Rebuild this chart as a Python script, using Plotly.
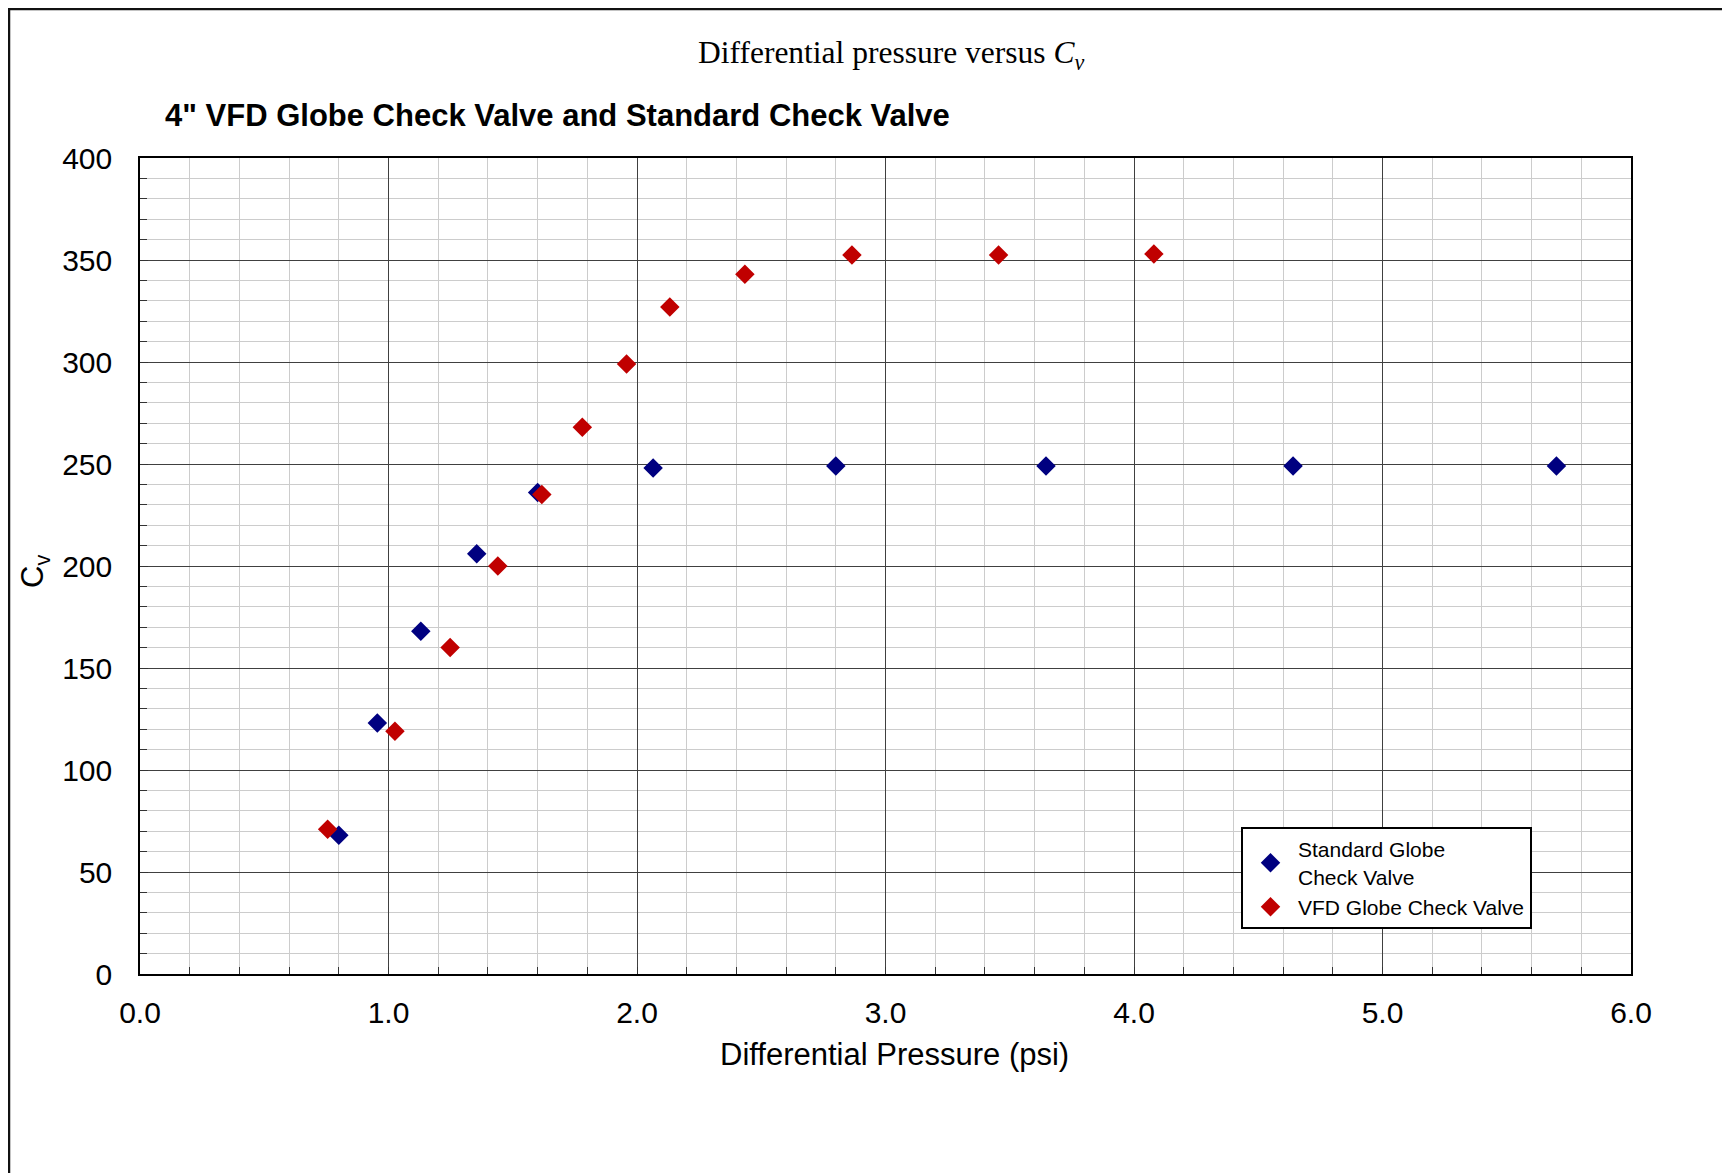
import plotly.graph_objects as go

# Data
std_dp = [0.80, 0.955, 1.13, 1.355, 1.60, 2.065, 2.80, 3.646, 4.64, 5.70]
std_cv = [68, 123, 168, 206, 236, 248, 249, 249, 249, 249]
std_name = "Standard Globe<br>Check Valve"

vfd_dp = [0.755, 1.026, 1.248, 1.44, 1.617, 1.78, 1.958, 2.132, 2.434, 2.865, 3.455, 4.08]
vfd_cv = [71, 119, 160, 200, 235, 268, 299, 327, 343, 352.5, 352.5, 353]
vfd_name = "VFD Globe Check Valve"

x_ticks = [0.0, 1.0, 2.0, 3.0, 4.0, 5.0, 6.0]
y_ticks = [0, 50, 100, 150, 200, 250, 300, 350, 400]

W, H = 1730, 1173
OFF = 8  # page body offset
L, R, T, B = 140 - OFF, 1631 - OFF, 158 - OFF, 974 - OFF  # plot area in pixels
pw, ph = R - L, B - T

def px(xp):
    return (xp - OFF - L) / pw

def py(yp):
    return (B - (yp - OFF)) / ph

fig = go.Figure()
fig.add_trace(go.Scatter(
    x=std_dp, y=std_cv, mode="markers", name=std_name,
    marker=dict(symbol="diamond", size=15, color="#000080"),
))
fig.add_trace(go.Scatter(
    x=vfd_dp, y=vfd_cv, mode="markers", name=vfd_name,
    marker=dict(symbol="diamond", size=15, color="#C00000"),
))

sans = "Liberation Sans, Arial, sans-serif"
tickfont = dict(family=sans, size=30, color="black")

fig.update_xaxes(
    range=[0, 6], tickvals=x_ticks, ticktext=[f"{v:.1f}" for v in x_ticks],
    showgrid=True, gridcolor="#404040", gridwidth=1,
    ticks="inside", ticklen=7, tickcolor="#333", tickwidth=1,
    minor=dict(dtick=0.2, showgrid=True, gridcolor="#cccccc", gridwidth=1,
               ticks="inside", ticklen=7, tickcolor="#333"),
    showline=True, linecolor="black", linewidth=1.5, mirror=True,
    zeroline=False, tickfont=tickfont, ticklabelstandoff=11,
)
fig.update_yaxes(
    range=[0, 400], tickvals=y_ticks,
    showgrid=True, gridcolor="#404040", gridwidth=1,
    ticks="inside", ticklen=8, tickcolor="#333", tickwidth=1,
    minor=dict(dtick=10, showgrid=True, gridcolor="#cccccc", gridwidth=1,
               ticks="inside", ticklen=7, tickcolor="#333"),
    showline=True, linecolor="black", linewidth=1.5, mirror=True,
    zeroline=False, tickfont=tickfont, ticklabelstandoff=20,
)

annotations = [
    dict(text="Differential pressure versus <i>C<sub>v</sub></i>",
         x=px(891), y=py(55), xref="paper", yref="paper",
         xanchor="center", yanchor="middle", showarrow=False,
         font=dict(family="Liberation Serif, Times New Roman, serif", size=31.5, color="black")),
    dict(text="<b>4\" VFD Globe Check Valve and Standard Check Valve</b>",
         x=px(163), y=py(116), xref="paper", yref="paper",
         xanchor="left", yanchor="middle", showarrow=False,
         font=dict(family=sans, size=31, color="black")),
    dict(text="Differential Pressure (psi)",
         x=px(895), y=py(1054), xref="paper", yref="paper",
         xanchor="center", yanchor="middle", showarrow=False,
         font=dict(family=sans, size=31, color="black")),
    dict(text="C<sub>v</sub>", textangle=-90,
         x=px(35), y=py(572), xref="paper", yref="paper",
         xanchor="center", yanchor="middle", showarrow=False,
         font=dict(family=sans, size=31, color="black")),
]

shapes = [
    dict(type="line", xref="paper", yref="paper",
         x0=px(9), x1=px(9), y0=py(8), y1=py(1200),
         line=dict(color="#111", width=2.5)),
    dict(type="line", xref="paper", yref="paper",
         x0=px(8), x1=px(1760), y0=py(9), y1=py(9),
         line=dict(color="#111", width=2.5)),
]

fig.update_layout(
    width=W, height=H,
    margin=dict(l=L, r=W - R, t=T, b=H - B),
    paper_bgcolor="white", plot_bgcolor="white",
    showlegend=True,
    legend=dict(x=px(1241), y=py(827), xanchor="left", yanchor="top",
                bgcolor="white", bordercolor="black", borderwidth=2,
                font=dict(family=sans, size=21, color="black"),
                itemwidth=45, tracegroupgap=0),
    annotations=annotations, shapes=shapes,
)

fig.write_html("out.html")
